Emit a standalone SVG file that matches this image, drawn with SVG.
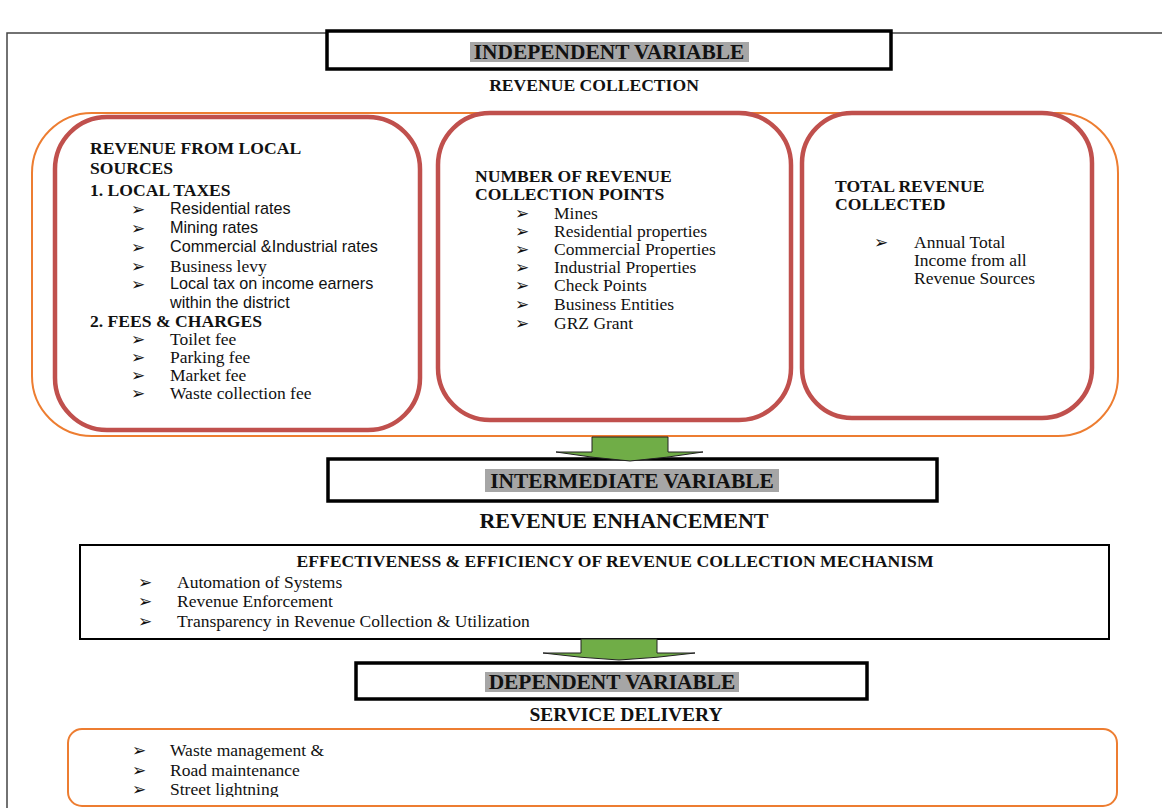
<svg xmlns="http://www.w3.org/2000/svg" width="1162" height="808" viewBox="0 0 1162 808">
<style>
.bg{fill:#fff}
.frame{stroke:#444;stroke-width:1.5;fill:none}
.vbox{fill:#fff;stroke:#000;stroke-width:3.5}
.hl{fill:#a6a6a6}
.vt{font-family:"Liberation Serif","Times New Roman",serif;font-weight:bold;font-size:21.4px;fill:#111;text-anchor:middle}
.sub{font-family:"Liberation Serif","Times New Roman",serif;font-weight:bold;fill:#111;text-anchor:middle}
.outer{fill:none;stroke:#ED7D31;stroke-width:2}
.red{fill:#fff;stroke:#C0504D;stroke-width:4.5}
.h{font-family:"Liberation Serif","Times New Roman",serif;font-weight:bold;font-size:17.6px;fill:#111}
.s{font-family:"Liberation Serif","Times New Roman",serif;font-size:17.5px;fill:#111}
.a{font-family:"Liberation Sans",Arial,sans-serif;font-size:16.2px;fill:#111}
.b{font-family:"DejaVu Sans",sans-serif;font-size:17px;fill:#111}
.box{fill:#fff;stroke:#000;stroke-width:2}
.obox{fill:#fff;stroke:#ED7D31;stroke-width:2}
.arrow{fill:#70AD47;stroke:#222;stroke-width:1}
</style>
<defs>
<clipPath id="clipBottom"><rect x="0" y="0" width="1162" height="797"/></clipPath>
</defs>
<rect class="bg" x="0" y="0" width="1162" height="808"/>
<path class="frame" d="M7,808 V33 H1162"/>

<g id="independent">
<rect class="vbox" x="327" y="31" width="564" height="38"/>
<rect class="hl" x="470" y="42" width="279" height="20"/>
<text class="vt" x="609" y="59">INDEPENDENT VARIABLE</text>
<text class="sub" x="594" y="91" font-size="17.6">REVENUE COLLECTION</text>
</g>

<g id="revenue-collection">
<rect class="outer" x="32" y="113" width="1086" height="323" rx="60"/>
</g>

<g id="local-sources">
<rect class="red" x="55" y="117" width="365" height="313" rx="52"/>
<text class="h" x="90" y="154">REVENUE FROM LOCAL</text>
<text class="h" x="90" y="174">SOURCES</text>
<text class="h" x="90" y="196">1. LOCAL TAXES</text>
<text class="b" x="131" y="215">➢</text><text class="a" x="170" y="214">Residential rates</text>
<text class="b" x="131" y="234">➢</text><text class="a" x="170" y="233">Mining rates</text>
<text class="b" x="131" y="253">➢</text><text class="a" x="170" y="252">Commercial &amp;Industrial rates</text>
<text class="b" x="131" y="272">➢</text><text class="s" x="170" y="272">Business levy</text>
<text class="b" x="131" y="290">➢</text><text class="a" x="170" y="289">Local tax on income earners</text>
<text class="a" x="170" y="308">within the district</text>
<text class="h" x="90" y="327">2. FEES &amp; CHARGES</text>
<text class="b" x="131" y="345">➢</text><text class="s" x="170" y="345">Toilet fee</text>
<text class="b" x="131" y="363">➢</text><text class="s" x="170" y="363">Parking fee</text>
<text class="b" x="131" y="381">➢</text><text class="s" x="170" y="381">Market fee</text>
<text class="b" x="131" y="399">➢</text><text class="s" x="170" y="399">Waste collection fee</text>
</g>

<g id="collection-points">
<rect class="red" x="438" y="113" width="353" height="307" rx="52"/>
<text class="h" x="475" y="182">NUMBER OF REVENUE</text>
<text class="h" x="475" y="200">COLLECTION POINTS</text>
<text class="b" x="515" y="219">➢</text><text class="s" x="554" y="219">Mines</text>
<text class="b" x="515" y="237">➢</text><text class="s" x="554" y="237">Residential properties</text>
<text class="b" x="515" y="255">➢</text><text class="s" x="554" y="255">Commercial Properties</text>
<text class="b" x="515" y="273">➢</text><text class="s" x="554" y="273">Industrial Properties</text>
<text class="b" x="515" y="291">➢</text><text class="s" x="554" y="291">Check Points</text>
<text class="b" x="515" y="310">➢</text><text class="s" x="554" y="310">Business Entities</text>
<text class="b" x="515" y="329">➢</text><text class="s" x="554" y="329">GRZ Grant</text>
</g>

<g id="total-revenue">
<rect class="red" x="802" y="113" width="290" height="305" rx="50"/>
<text class="h" x="835" y="192">TOTAL REVENUE</text>
<text class="h" x="835" y="210">COLLECTED</text>
<text class="b" x="874" y="248">➢</text><text class="s" x="914" y="248">Annual Total</text>
<text class="s" x="914" y="266">Income from all</text>
<text class="s" x="914" y="284">Revenue Sources</text>
</g>

<g id="intermediate">
<rect class="vbox" x="328" y="459" width="609" height="42"/>
<rect class="hl" x="485" y="469" width="294" height="23"/>
<text class="vt" x="632" y="488">INTERMEDIATE VARIABLE</text>
<text class="sub" x="624" y="528" font-size="22">REVENUE ENHANCEMENT</text>
</g>

<g id="mechanism">
<rect class="box" x="80" y="545" width="1029" height="94"/>
<text class="h" x="615" y="567" text-anchor="middle">EFFECTIVENESS &amp; EFFICIENCY OF REVENUE COLLECTION MECHANISM</text>
<text class="b" x="138" y="588">➢</text><text class="s" x="177" y="588">Automation of Systems</text>
<text class="b" x="138" y="607">➢</text><text class="s" x="177" y="607">Revenue Enforcement</text>
<text class="b" x="138" y="627">➢</text><text class="s" x="177" y="627">Transparency in Revenue Collection &amp; Utilization</text>
</g>

<g id="dependent">
<rect class="vbox" x="356" y="663" width="511" height="36"/>
<rect class="hl" x="485" y="672" width="254" height="20"/>
<text class="vt" x="612" y="689">DEPENDENT VARIABLE</text>
<text class="sub" x="626" y="721" font-size="19.5">SERVICE DELIVERY</text>
</g>

<g id="service-delivery">
<rect class="obox" x="68" y="729" width="1049" height="77" rx="14"/>
<g clip-path="url(#clipBottom)">
<text class="b" x="132" y="756">➢</text><text class="s" x="170" y="756">Waste management &amp;</text>
<text class="b" x="132" y="776">➢</text><text class="s" x="170" y="776">Road maintenance</text>
<text class="b" x="132" y="795">➢</text><text class="s" x="170" y="795">Street lightning</text>
</g>
</g>

<g id="connectors">
<path class="arrow" d="M592,437 H668 V452 H703 Q666,458 630,461 Q593,458 556,452 H592 Z"/>
<path class="arrow" d="M581,639 H657 V653 H695 Q657,658 619,660 Q581,658 543,653 H581 Z"/>
</g>
</svg>
